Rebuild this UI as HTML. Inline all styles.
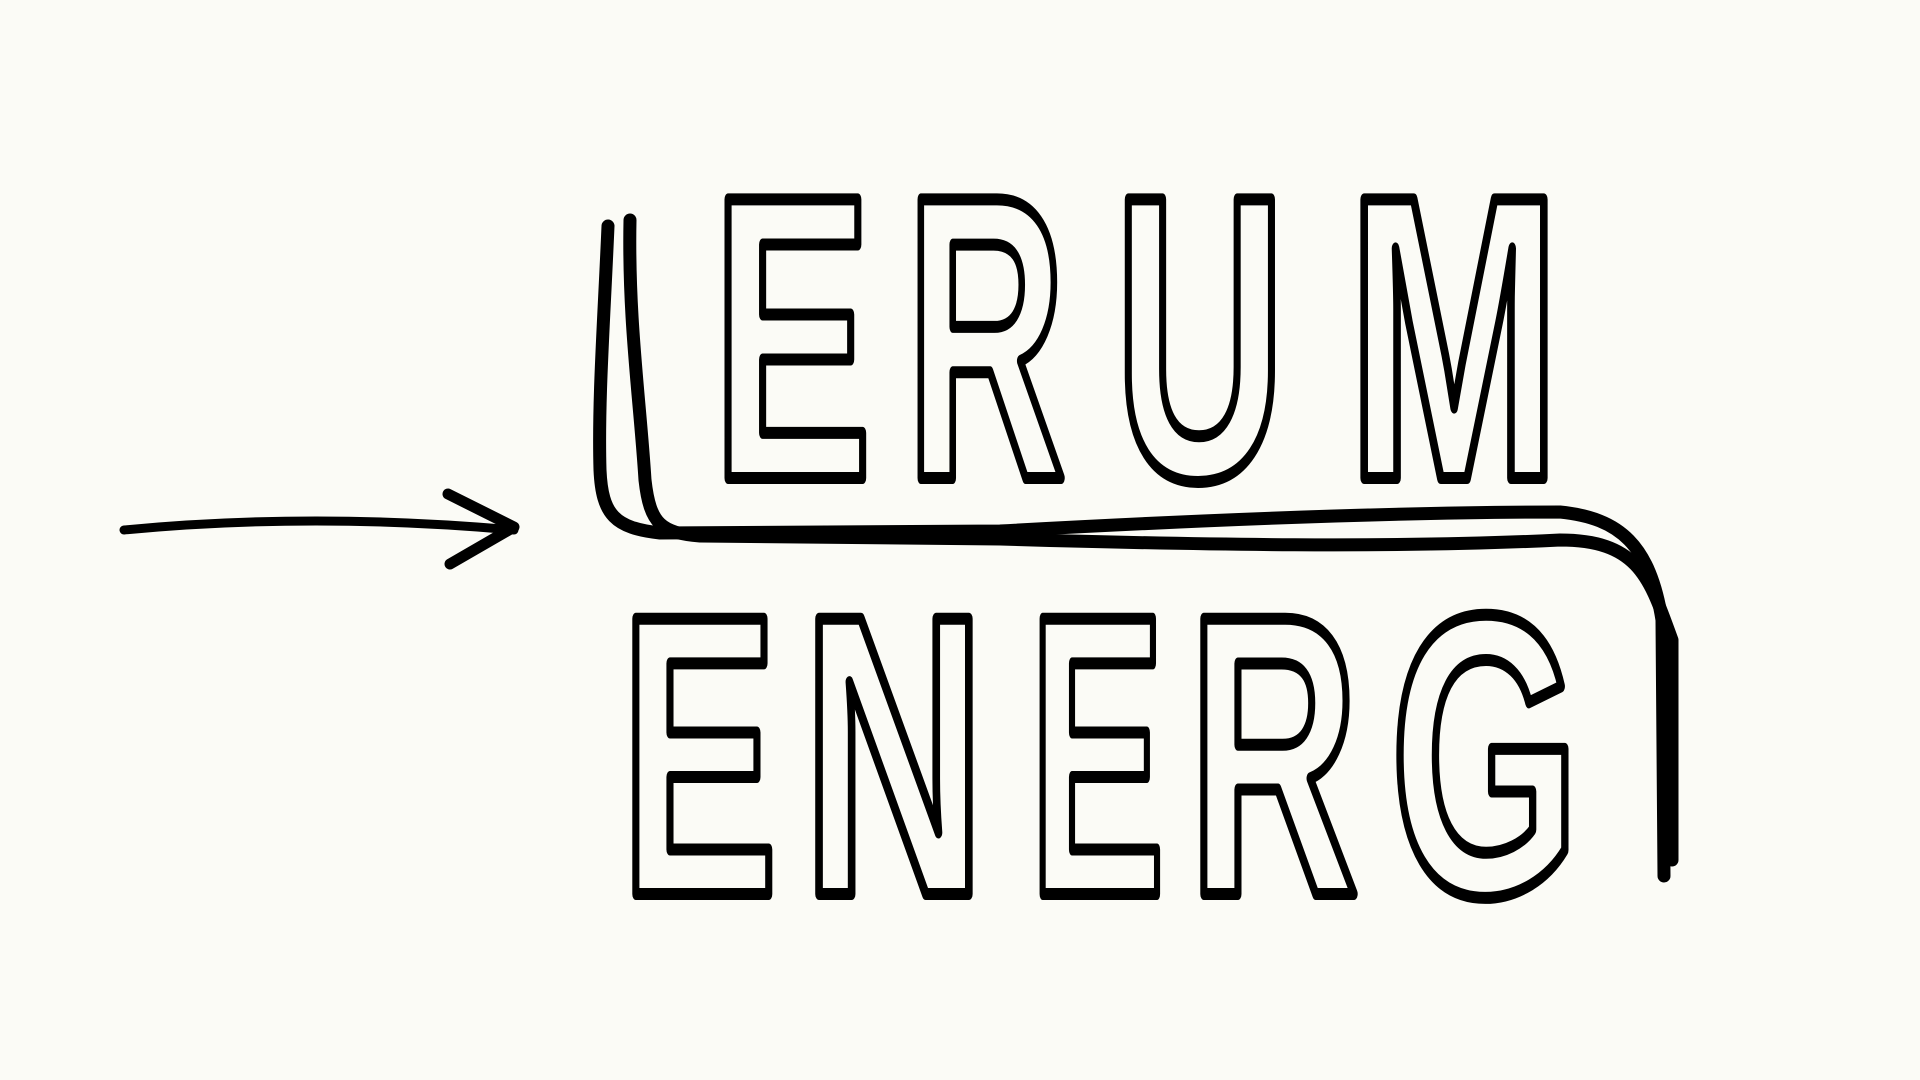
<!DOCTYPE html>
<html><head><meta charset="utf-8"><style>
html,body{margin:0;padding:0;background:#fbfbf6;}
svg{display:block}
</style></head><body>
<svg width="1920" height="1080" viewBox="0 0 1920 1080" xmlns="http://www.w3.org/2000/svg">
<rect width="1920" height="1080" fill="#fbfbf6"/>
<g fill="none" stroke="#000" stroke-width="13" stroke-linecap="round" stroke-linejoin="round">
<path d="M608 226 C604 320 598 400 600 470 C602 515 615 528 660 533 L1000 531 C1200 520 1400 512 1560 512 C1620 518 1650 545 1662 620 L1664 876"/>
<path d="M630 220 C628 320 640 400 645 480 C650 525 662 533 700 536 L1000 539 C1200 545 1400 548 1560 540 C1640 540 1650 580 1672 640 L1672 860"/>
<path d="M124 530 C250 518 380 518 514 530" stroke-width="9"/>
<path d="M448 494 L514 527 L450 564" stroke-width="11"/>
</g>
<g font-family="'Liberation Sans', sans-serif" font-weight="bold" fill="none" stroke="#000" stroke-width="12" stroke-linejoin="round">
<text x="712" y="478" font-size="405" textLength="160" lengthAdjust="spacingAndGlyphs">E</text>
<text x="906" y="478" font-size="405" textLength="160" lengthAdjust="spacingAndGlyphs">R</text>
<text x="1114" y="478" font-size="405" textLength="172" lengthAdjust="spacingAndGlyphs">U</text>
<text x="1347" y="478" font-size="405" textLength="214" lengthAdjust="spacingAndGlyphs">M</text>
<text x="620" y="894" font-size="400" textLength="158" lengthAdjust="spacingAndGlyphs">E</text>
<text x="802" y="894" font-size="400" textLength="184" lengthAdjust="spacingAndGlyphs">N</text>
<text x="1029" y="894" font-size="400" textLength="136" lengthAdjust="spacingAndGlyphs">E</text>
<text x="1188" y="894" font-size="400" textLength="171" lengthAdjust="spacingAndGlyphs">R</text>
<text x="1390" y="894" font-size="400" textLength="190" lengthAdjust="spacingAndGlyphs">G</text>
</g>
</svg>
</body></html>
